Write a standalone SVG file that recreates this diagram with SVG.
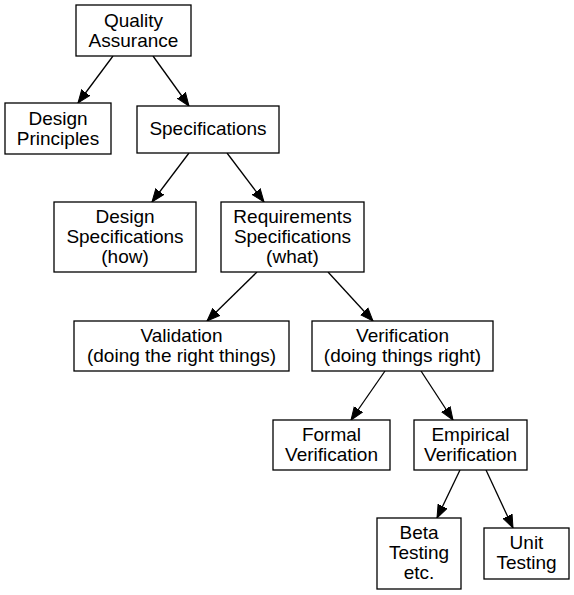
<svg xmlns="http://www.w3.org/2000/svg" width="574" height="595" viewBox="0 0 574 595">
<style>
.n rect{fill:#fff;stroke:#000;stroke-width:1.3}
.n text{font-family:"Liberation Sans",Arial,sans-serif;font-size:19px;text-anchor:middle;fill:#000}
.e line{stroke:#000;stroke-width:1.3;marker-end:url(#ah)}
</style>
<defs>
<marker id="ah" markerUnits="userSpaceOnUse" markerWidth="14" markerHeight="12" refX="13" refY="6" orient="auto" viewBox="0 0 14 12">
<path d="M0,1 L13,6 L0,11 z" fill="#000" stroke="#000" stroke-width="1"/>
</marker>
</defs>
<rect width="574" height="595" fill="#fff"/>
<g id="edges" class="e">
<line x1="113" y1="56" x2="78" y2="103"/>
<line x1="153" y1="56" x2="189" y2="106"/>
<line x1="189" y1="153" x2="152" y2="202"/>
<line x1="227" y1="153" x2="264" y2="202"/>
<line x1="257" y1="272" x2="207" y2="321"/>
<line x1="328" y1="272" x2="373" y2="321"/>
<line x1="385" y1="371" x2="351" y2="420"/>
<line x1="421" y1="371" x2="453" y2="420"/>
<line x1="460" y1="470" x2="437" y2="518"/>
<line x1="486" y1="470" x2="513" y2="528"/>
</g>
<g id="qa" class="n"><rect x="76" y="5" width="115" height="51"/><text x="133.5" y="26.5">Quality</text><text x="133.5" y="46.5">Assurance</text></g>
<g id="dp" class="n"><rect x="5" y="103" width="106" height="51"/><text x="58" y="124.5">Design</text><text x="58" y="144.5">Principles</text></g>
<g id="spec" class="n"><rect x="137" y="106" width="142" height="47"/><text x="208" y="135">Specifications</text></g>
<g id="ds" class="n"><rect x="54" y="202" width="142" height="70"/><text x="125" y="222.5">Design</text><text x="125" y="242.5">Specifications</text><text x="125" y="262.5">(how)</text></g>
<g id="rs" class="n"><rect x="221" y="202" width="143" height="70"/><text x="292.5" y="222.5">Requirements</text><text x="292.5" y="242.5">Specifications</text><text x="292.5" y="262.5">(what)</text></g>
<g id="val" class="n"><rect x="74" y="321" width="215" height="50"/><text x="181.5" y="342">Validation</text><text x="181.5" y="362">(doing the right things)</text></g>
<g id="ver" class="n"><rect x="312" y="321" width="181" height="50"/><text x="402.5" y="342">Verification</text><text x="402.5" y="362">(doing things right)</text></g>
<g id="fv" class="n"><rect x="273" y="420" width="117" height="50"/><text x="331.5" y="441">Formal</text><text x="331.5" y="461">Verification</text></g>
<g id="ev" class="n"><rect x="414" y="420" width="113" height="50"/><text x="470.5" y="441">Empirical</text><text x="470.5" y="461">Verification</text></g>
<g id="beta" class="n"><rect x="377" y="518" width="84" height="71"/><text x="419" y="539">Beta</text><text x="419" y="559">Testing</text><text x="419" y="579">etc.</text></g>
<g id="unit" class="n"><rect x="484" y="528" width="85" height="51"/><text x="526.5" y="549">Unit</text><text x="526.5" y="569">Testing</text></g>
</svg>
